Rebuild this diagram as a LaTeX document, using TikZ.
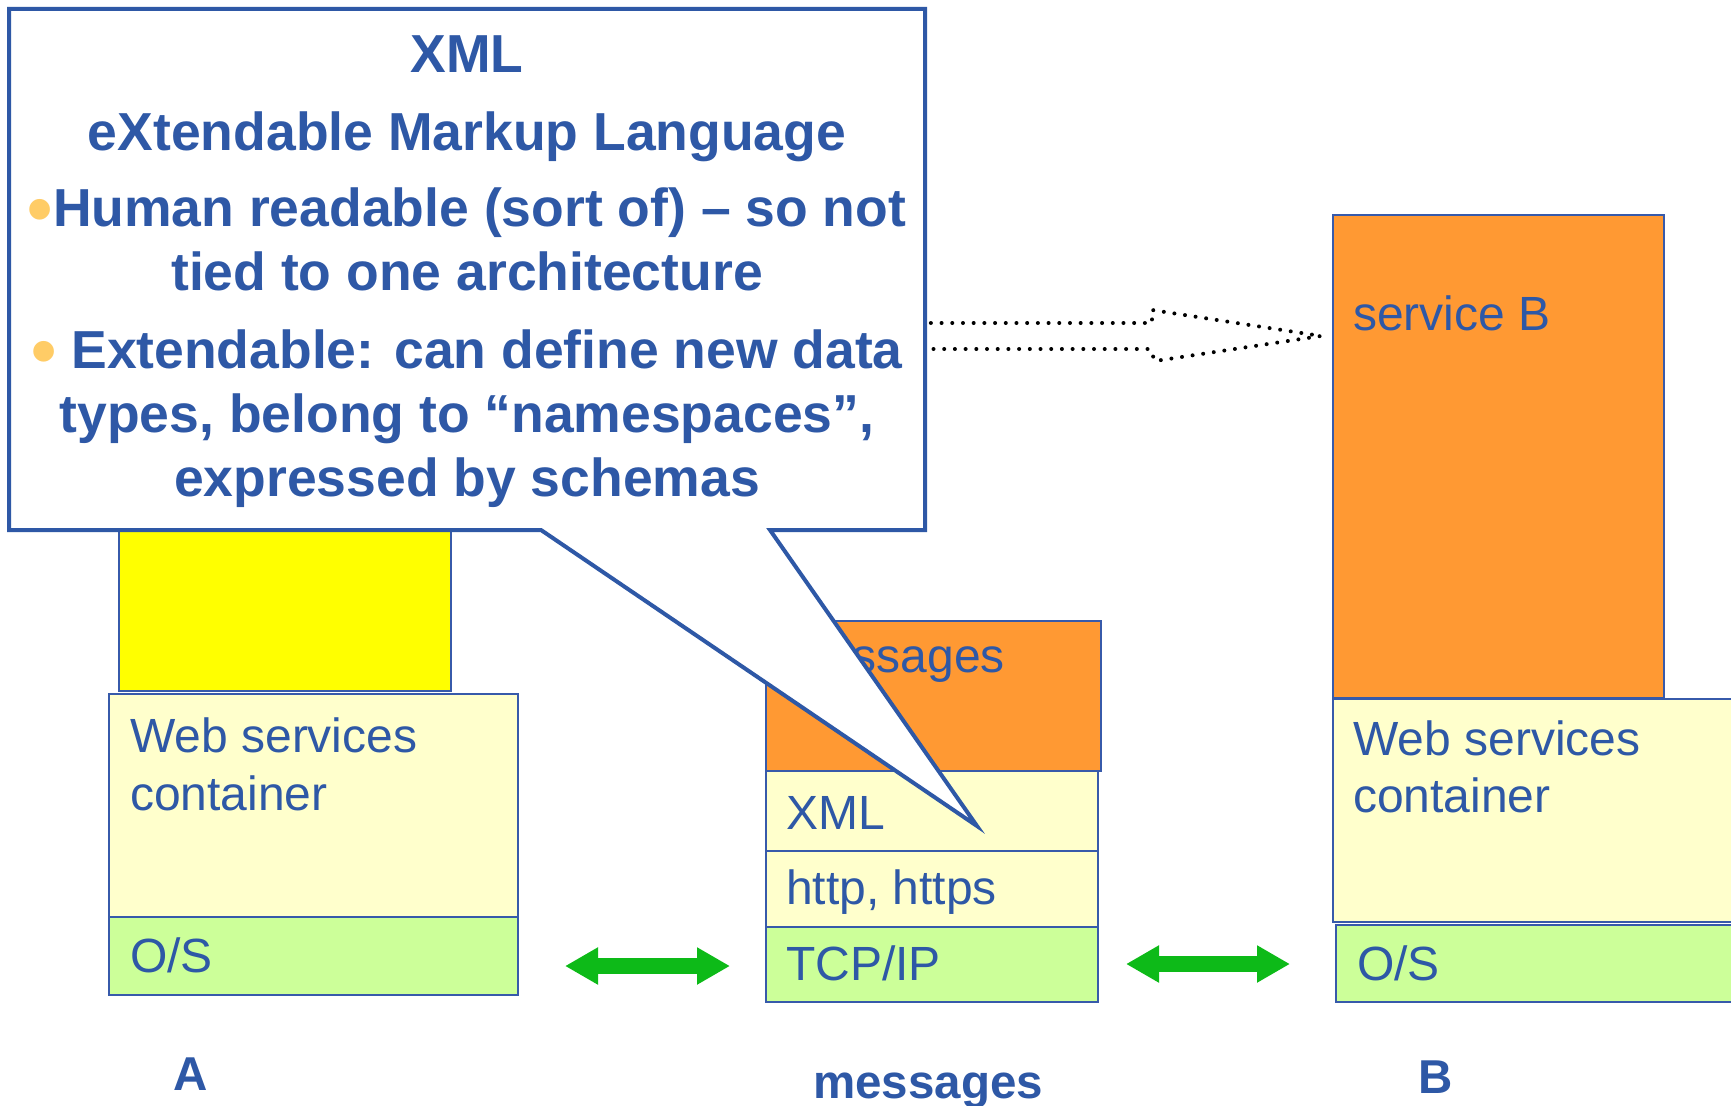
\documentclass[tikz,border=0pt]{standalone}
\usepackage{fontspec}
\setmainfont{Liberation Sans}
\usetikzlibrary{arrows.meta}
\definecolor{tblue}{RGB}{46,88,166}
\definecolor{bblue}{RGB}{55,90,170}
\definecolor{orng}{RGB}{255,153,51}
\definecolor{lyel}{RGB}{255,255,204}
\definecolor{lgrn}{RGB}{204,255,153}
\definecolor{yel}{RGB}{255,255,0}
\definecolor{grn}{RGB}{13,186,24}
\definecolor{bul}{RGB}{255,204,102}
\newcommand{\bulmark}{{\color{bul}\raisebox{-7pt}{\fontsize{72}{72}\selectfont •}}}
\tikzset{
  box/.style={draw=bblue, line width=2pt, inner sep=0pt, outer sep=0pt, anchor=north west},
  lbl/.style={text=tblue, inner sep=0pt, anchor=base west, font=\fontsize{48}{56}\selectfont},
  bigl/.style={text=tblue, inner sep=0pt, anchor=base, font=\fontsize{47.5}{56}\selectfont\bfseries},
  ctext/.style={text=tblue, inner sep=0pt, anchor=base, font=\fontsize{53.5}{60}\selectfont\bfseries},
  garrow/.style={draw=grn, line width=16pt, {Triangle[length=33pt,width=35pt]}-{Triangle[length=33pt,width=35pt]}, shorten <=0pt, shorten >=0pt},
}
\begin{document}
\begin{tikzpicture}[x=1pt,y=-1pt]
\clip (0,0) rectangle (1731,1105);
\fill[white] (0,0) rectangle (1731,1105);
% stack A
\node[box, fill=yel, minimum width=332pt, minimum height=161pt] (yA) at (119,530) {};
\node[box, fill=lyel, minimum width=409pt, minimum height=223pt] (wsA) at (109,694) {};
\node[box, fill=lgrn, minimum width=409pt, minimum height=78pt] (osA) at (109,917) {};
\node[lbl] (wsAt1) at (130,752) {Web services};
\node[lbl] (wsAt2) at (130,810) {container};
\node[lbl] (osAt) at (130,972) {O/S};
% messages stack
\node[box, fill=orng, minimum width=335pt, minimum height=150pt] (msg) at (766,621) {};
\node[box, fill=lyel, minimum width=332pt, minimum height=80pt] (xml) at (766,771) {};
\node[box, fill=lyel, minimum width=332pt, minimum height=76pt] (http) at (766,851) {};
\node[box, fill=lgrn, minimum width=332pt, minimum height=75pt] (tcp) at (766,927) {};
\node[lbl] (msgt) at (786,672) {messages};
\node[lbl] (xmlt) at (786,829) {XML};
\node[lbl] (httpt) at (786,904) {http, https};
\node[lbl] (tcpt) at (786,980) {TCP/IP};
% stack B
\node[box, fill=orng, minimum width=331pt, minimum height=483pt] (svB) at (1333,215) {};
\node[box, fill=lyel, minimum width=427pt, minimum height=223pt] (wsB) at (1333,699) {};
\node[box, fill=lgrn, minimum width=424pt, minimum height=77pt] (osB) at (1336,925) {};
\node[lbl] (svBt) at (1353,330) {service B};
\node[lbl] (wsBt1) at (1353,755) {Web services};
\node[lbl] (wsBt2) at (1353,812) {container};
\node[lbl] (osBt) at (1357,980) {O/S};
% bottom labels
\node[bigl] (labA) at (191,1090) {A};
\node[bigl] (labM) at (928,1098) {messages};
\node[bigl] (labB) at (1436,1093) {B};
% green arrows
\coordinate (g1a) at (565,966);
\coordinate (g1b) at (730,966);
\coordinate (g2a) at (1126,964);
\coordinate (g2b) at (1290,964);
\draw[garrow] (g1a) -- (g1b);
\draw[garrow] (g2a) -- (g2b);
% dotted block arrow
\draw[line width=4pt, line cap=round, dash pattern=on 0pt off 10.7pt]
  (880,349) -- (1150,349) -- (1155,361) -- (1321,336) -- (1152,310) -- (1152,323) -- (880,323);
% callout
\draw[draw=tblue, fill=white, line width=4pt, line join=miter]
  (9,9) -- (925,9) -- (925,530) -- (770,530) -- (977,826) -- (541,530) -- (9,530) -- cycle;
\node[ctext] (c1) at (467,73) {XML};
\node[ctext] (c2) at (467,150) {eXtendable Markup Language};
\node[ctext] (c3) at (467,226) {\bulmark Human readable (sort of) – so not};
\node[ctext] (c4) at (467,290) {tied to one architecture};
\node[ctext] (c5) at (467,368) {\bulmark\ Extendable: can define new data};
\node[ctext] (c6) at (467,432) {types, belong to “namespaces”,};
\node[ctext] (c7) at (467,496) {expressed by schemas};
\end{tikzpicture}
\end{document}
